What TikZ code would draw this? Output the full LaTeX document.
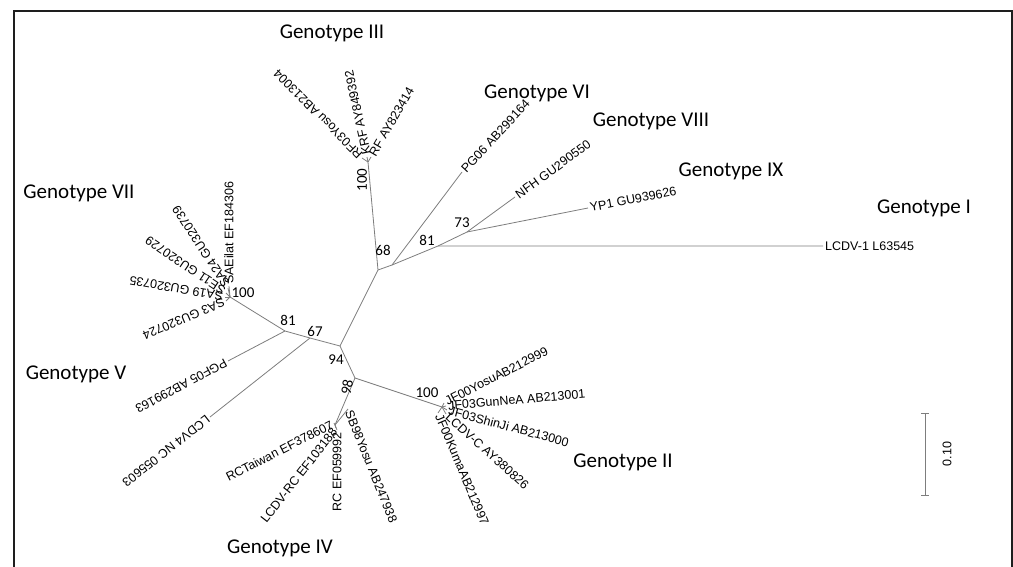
\documentclass[tikz,border=0pt]{standalone}
\usepackage{fontspec}
\setmainfont{Liberation Sans}
\newfontfamily\genofont{Carlito}
\usepackage{tikz}
\definecolor{brgray}{RGB}{125,125,125}
\definecolor{frameblack}{RGB}{30,30,30}
\usetikzlibrary{arrows.meta,positioning}

\tikzset{
  leaf/.style={font=\fontsize{12.5}{14}\selectfont, inner sep=2pt, anchor=west},
  leafr/.style={leaf, anchor=east},
  boot/.style={font=\genofont\fontsize{15}{17}\selectfont, inner sep=0pt},
  geno/.style={font=\genofont\fontsize{21}{24}\selectfont, inner sep=0pt},
  branch/.style={brgray, line width=0.8pt},
}

\begin{document}
\begin{tikzpicture}[x=1pt, y=-1pt]
    \useasboundingbox (0,0) rectangle (1013,567);
    % Frame
    \draw[frameblack, line width=1.5pt] (14,567) -- (14,11) -- (1012,11) -- (1012,567);

    % Internal nodes
    \coordinate (root) at (340,346);
    \coordinate (n67)  at (310,338);
    \coordinate (n81l) at (285,331);
    \coordinate (nVII) at (230,297);
    \coordinate (n68)  at (378,270);
    \coordinate (nX)   at (392,265);
    \coordinate (nIII) at (368,162);
    \coordinate (n81r) at (438,246);
    \coordinate (n73)  at (467,232);
    \coordinate (nD)   at (355,378);
    \coordinate (nE)   at (442,407);
    \coordinate (nF)   at (335,425);

    % Genotype I, IX, VIII, VI
    \node[leaf]            (lcdv1) at (823,246) {LCDV-1 L63545};
    \node[leaf, rotate=11] (yp1)   at (588,208) {YP1 GU939626};
    \node[leaf, rotate=36] (nfh)   at (515,197) {NFH GU290550};
    \node[leaf, rotate=47] (pg06)  at (462,172) {PG06 AB299164};

    % Genotype III
    \node[leaf, rotate=135] (rf03) at (362,158) {RF03Yosu AB213004};
    \node[leaf, rotate=102] (krf)  at (367,157) {KRF AY849392};
    \node[leaf, rotate=60]  (rf)   at (371,157) {RF AY823414};

    % Genotype VII
    \node[leaf, rotate=90]  (saeil) at (229,286) {SAEilat EF184306};
    \node[leaf, rotate=123] (sa24)  at (228,288) {SA24 GU320739};
    \node[leaf, rotate=146] (se11)  at (226,293) {SE11 GU320729};
    \node[leaf, rotate=170] (sa19)  at (225,297) {SA19 GU320735};
    \node[leaf, rotate=203] (sa3)   at (226,301) {SA3 GU320724};

    % Genotype V
    \node[leaf, rotate=208] (pgf05) at (228,361) {PGF05 AB299163};
    \node[leaf, rotate=218] (lcdv4) at (210,417) {LCDV4 NC 055603};

    % Genotype II
    \node[leaf, rotate=27]  (jf00y) at (444,403) {JF00YosuAB212999};
    \node[leaf, rotate=5]   (jf03g) at (446,406) {JF03GunNeA AB213001};
    \node[leaf, rotate=-15] (jf03s) at (447,410) {JF03ShinJi AB213000};
    \node[leaf, rotate=-42] (lcdvc) at (446,414) {LCDV-C AY380826};
    \node[leaf, rotate=-67] (jf00k) at (438,413) {JF00KumaAB212997};

    % Genotype IV
    \node[leafr, rotate=27] (rctw)  at (334,423) {RCTaiwan EF378607};
    \node[leafr, rotate=52] (lcdvrc) at (336,428) {LCDV-RC EF103188};
    \node[leafr, rotate=90] (rc)    at (337,430) {RC EF059992};
    \node[leaf, rotate=-68] (sb98)  at (348,409) {SB98Yosu AB247938};

    % Branches
    \draw[branch] (root) -- (n67) -- (n81l) -- (nVII);
    \draw[branch] (n81l) -- (pgf05.west);
    \draw[branch] (n67) -- (lcdv4.west);
    \draw[branch] (root) -- (n68) -- (nIII);
    \draw[branch] (n68) -- (nX) -- (pg06.west);
    \draw[branch] (nX) -- (n81r) -- (lcdv1.west);
    \draw[branch] (n81r) -- (n73) -- (yp1.west);
    \draw[branch] (n73) -- (nfh.west);
    \draw[branch] (root) -- (nD) -- (nE);
    \draw[branch] (nD) -- (nF);
    \foreach \lf in {rf03,krf,rf} \draw[branch] (nIII) -- (\lf.west);
    \foreach \lf in {saeil,sa24,se11,sa19,sa3} \draw[branch] (nVII) -- (\lf.west);
    \foreach \lf in {jf00y,jf03g,jf03s,lcdvc,jf00k} \draw[branch] (nE) -- (\lf.west);
    \foreach \lf in {rctw,lcdvrc,rc} \draw[branch] (nF) -- (\lf.east);
    \draw[branch] (nF) -- (sb98.west);

    % Bootstrap values
    \node[boot]            (b94)  at (336,360) {94};
    \node[boot]            (b67)  at (315,331) {67};
    \node[boot]            (b81l) at (288,320) {81};
    \node[boot]            (b100a) at (243,293) {100};
    \node[boot]            (b68)  at (383,250) {68};
    \node[boot, rotate=90] (b100b) at (362,180) {100};
    \node[boot]            (b81r) at (427,240) {81};
    \node[boot]            (b73)  at (462,223) {73};
    \node[boot]            (b100c) at (427,393) {100};
    \node[boot, rotate=78] (b98)  at (347,387) {98};

    % Genotype labels
    \node[geno] (gI)    at (924,208) {Genotype I};
    \node[geno] (gII)   at (623,462) {Genotype II};
    \node[geno] (gIII)  at (332,33)  {Genotype III};
    \node[geno] (gIV)   at (280,548) {Genotype IV};
    \node[geno] (gV)    at (76,374)  {Genotype V};
    \node[geno] (gVI)   at (537,93)  {Genotype VI};
    \node[geno] (gVII)  at (79,193)  {Genotype VII};
    \node[geno] (gVIII) at (651,121) {Genotype VIII};
    \node[geno] (gIX)   at (731,171) {Genotype IX};

    % Scale bar
    \coordinate (sbtop) at (925,413);
    \coordinate (sbbot) at (925,495);
    \draw[branch] (sbtop) -- (sbbot);
    \draw[branch] ([xshift=-4pt]sbtop) -- ([xshift=4pt]sbtop);
    \draw[branch] ([xshift=-4pt]sbbot) -- ([xshift=4pt]sbbot);
    \node[leaf, anchor=center, rotate=90] (sblab) at (947,454) {0.10};
\end{tikzpicture}
\end{document}
